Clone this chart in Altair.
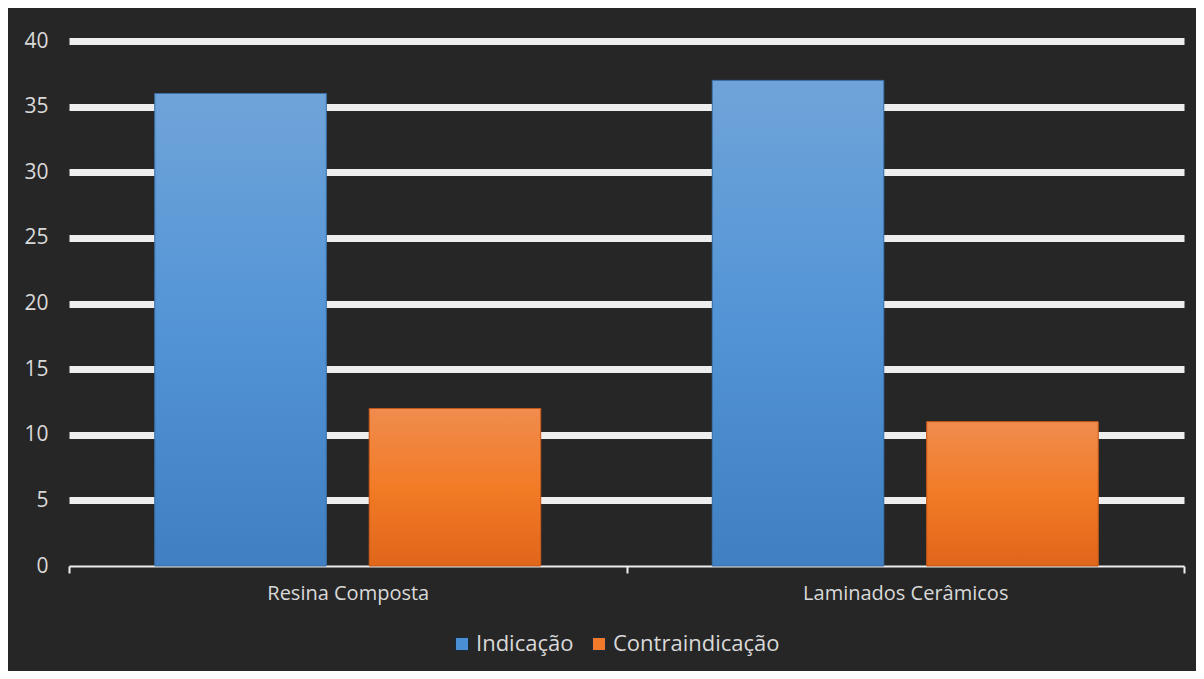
import altair as alt
import pandas as pd

categories = ["Resina Composta", "Laminados Cerâmicos"]
series = ["Indicação", "Contraindicação"]
indicacao = [36, 37]
contraindicacao = [12, 11]
y_ticks = [0, 5, 10, 15, 20, 25, 30, 35, 40]

rows = []
for i, c in enumerate(categories):
    rows.append({"categoria": c, "serie": series[0], "valor": indicacao[i]})
    rows.append({"categoria": c, "serie": series[1], "valor": contraindicacao[i]})
df = pd.DataFrame(rows)

FONT = "Open Sans"
LABEL = "#d9d9d9"
GRID = "#eeeeee"

x_enc = alt.X("categoria:N", sort=categories,
              scale=alt.Scale(paddingInner=0, paddingOuter=0),
              axis=alt.Axis(title=None, labelAngle=0, labelFontSize=20, labelColor=LABEL,
                            labelFont=FONT, labelPadding=10, labelLimit=400,
                            domainColor=GRID, domainWidth=2,
                            tickColor=GRID, tickWidth=2, tickSize=7, tickBand="extent",
                            grid=False))
xo_enc = alt.XOffset("serie:N", sort=series,
                     scale=alt.Scale(domain=series, paddingInner=0.2, paddingOuter=0.4))
y_enc = alt.Y("valor:Q",
              scale=alt.Scale(domain=[0, 40], nice=False),
              axis=alt.Axis(title=None, values=y_ticks, labelFontSize=21, labelColor=LABEL,
                            labelFont=FONT, labelPadding=21, domain=False, ticks=False,
                            grid=True, gridColor=GRID,
                            gridWidth={"condition": {"test": "datum.value === 0", "value": 0}, "value": 7}))

base = alt.Chart(df).mark_bar().encode(
    x=x_enc, xOffset=xo_enc, y=y_enc,
    color=alt.Color("serie:N", sort=series,
                    scale=alt.Scale(domain=series, range=["#4a8fd3", "#f07a2a"]),
                    legend=alt.Legend(title=None, orient="none", direction="horizontal",
                                      legendX=382, legendY=592, symbolType="square",
                                      symbolSize=170, symbolStrokeColor="#1b2a3a",
                                      symbolStrokeWidth=1, labelFontSize=22, labelColor=LABEL,
                                      labelFont=FONT, columnPadding=14, labelOffset=3,
                                      labelLimit=300))
)

blue_grad = {"gradient": "linear", "x1": 0, "y1": 0, "x2": 0, "y2": 1,
             "stops": [{"offset": 0, "color": "#6fa4d9"},
                       {"offset": 0.5, "color": "#5394d6"},
                       {"offset": 1, "color": "#3f7fc2"}]}
orange_grad = {"gradient": "linear", "x1": 0, "y1": 0, "x2": 0, "y2": 1,
               "stops": [{"offset": 0, "color": "#f08c4e"},
                         {"offset": 0.5, "color": "#f27b26"},
                         {"offset": 1, "color": "#e0661a"}]}

blue = alt.Chart(df).transform_filter(alt.datum.serie == series[0]).mark_bar(
    color=blue_grad, stroke="#3a6ea5", strokeWidth=1).encode(x=x_enc, xOffset=xo_enc, y=y_enc)
orange = alt.Chart(df).transform_filter(alt.datum.serie == series[1]).mark_bar(
    color=orange_grad, stroke="#c0561a", strokeWidth=1).encode(x=x_enc, xOffset=xo_enc, y=y_enc)

chart = alt.layer(base, blue, orange).properties(
    width=1115, height=525,
    background="#262626",
    padding={"left": 61, "top": 33, "right": 12, "bottom": 105},
    autosize=alt.AutoSizeParams(type="none"),
).configure_view(stroke=None)

chart.save("out.html", embed_options={"renderer": "svg", "actions": False})
